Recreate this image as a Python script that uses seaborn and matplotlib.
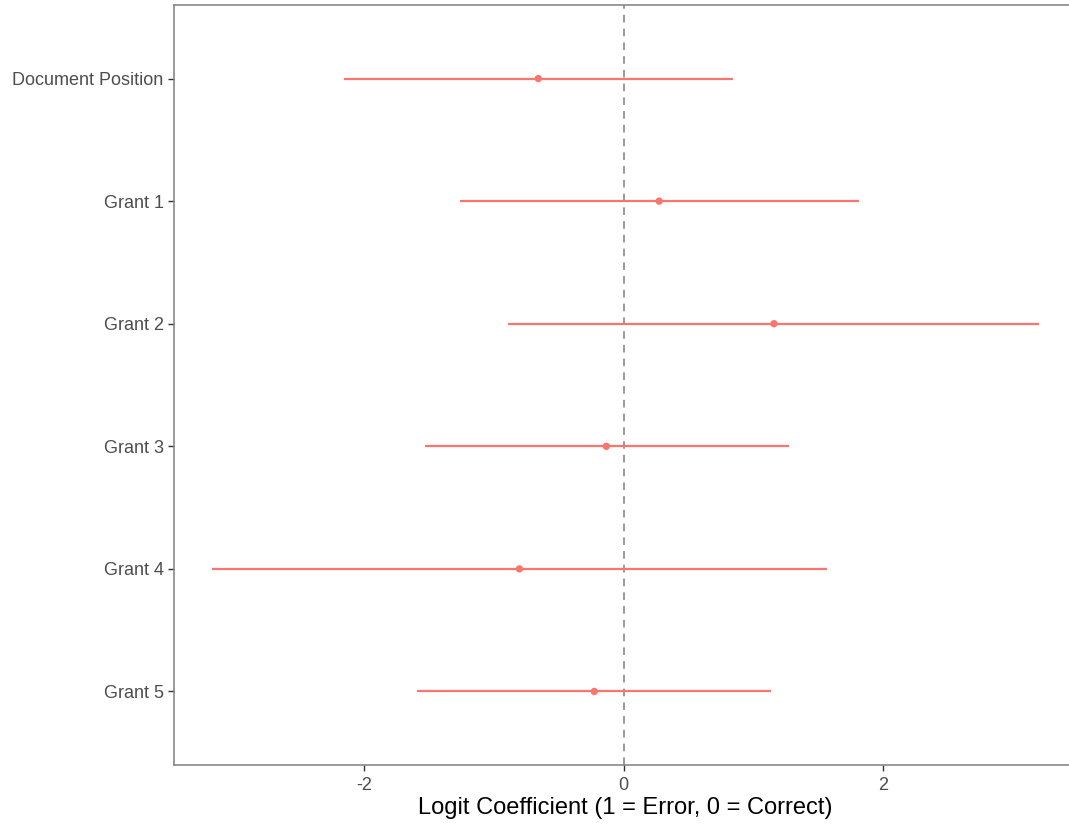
import numpy as np
import pandas as pd
import matplotlib
matplotlib.use("Agg")
import matplotlib.pyplot as plt
import seaborn as sns

# coefficients
terms = ["Document Position", "Grant 1", "Grant 2", "Grant 3", "Grant 4", "Grant 5"]
estimate = [-0.658, 0.275, 1.161, -0.133, -0.804, -0.226]
conf_low = [-2.158, -1.260, -0.890, -1.535, -3.173, -1.596]
conf_high = [0.847, 1.819, 3.207, 1.277, 1.569, 1.139]
x_ticks = [-2, 0, 2]

df = pd.DataFrame({"term": terms, "estimate": estimate,
                   "low": conf_low, "high": conf_high})
df["pos"] = np.arange(len(terms))

sns.set_theme(style="white")
plt.rcParams["font.family"] = ["Liberation Sans", "DejaVu Sans"]

col = "#F8766D"
fig = plt.figure(figsize=(10.69, 8.24), dpi=100)
# panel runs a little past the right edge, as in the original crop
ax = fig.add_axes([174 / 1069, 1 - 765 / 824, (1077 - 174) / 1069, (765 - 5) / 824])

ax.axvline(0, color="#7f7f7f", lw=1.1, ls=(0, (5, 4)), zorder=1)
ax.hlines(df["pos"], df["low"], df["high"], color=col, lw=1.6, zorder=2)
sns.scatterplot(data=df, x="estimate", y="pos", color=col, s=28,
                edgecolor="none", ax=ax, zorder=3, legend=False)

ax.set_xlim(-3.47, 3.50)
ax.set_ylim(len(terms) - 0.4, -0.6)
ax.set_yticks(df["pos"])
ax.set_yticklabels(terms)
ax.set_xticks(x_ticks)
ax.set_xticklabels([str(t) for t in x_ticks])

ax.set_ylabel("")
ax.set_xlabel("Logit Coefficient (1 = Error, 0 = Correct)", fontsize=17,
              color="black", labelpad=2)
ax.tick_params(axis="both", labelsize=13, labelcolor="#4D4D4D", colors="#333333",
               length=4, width=1, direction="out", left=True, bottom=True)
ax.tick_params(axis="x", pad=5)
ax.tick_params(axis="y", pad=3.5)
ax.tick_params(axis="both", labelcolor="#4D4D4D")

for side in ["left", "top", "bottom"]:
    ax.spines[side].set_color("#7f7f7f")
    ax.spines[side].set_linewidth(1.1)
ax.spines["right"].set_visible(False)

fig.savefig("out.png", dpi=100)
